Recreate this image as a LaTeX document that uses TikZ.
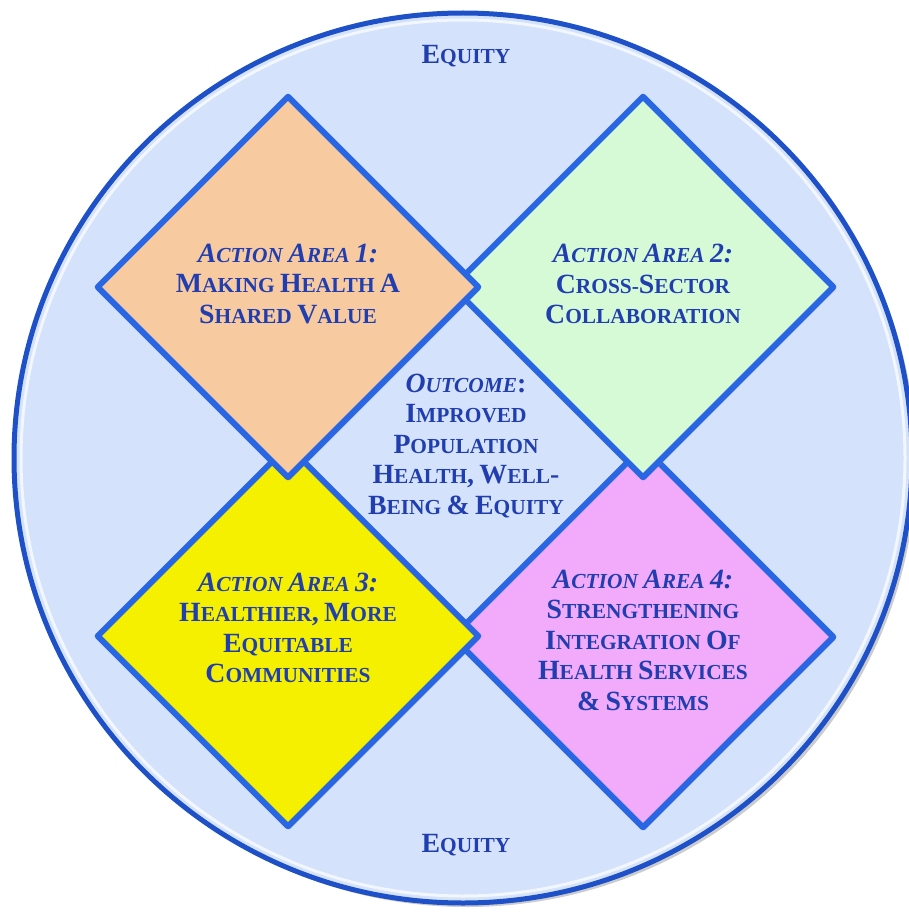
\documentclass[tikz,border=0pt]{standalone}
\usepackage{fontspec}
\setmainfont{Liberation Serif}
\usepackage{tikz}
\usetikzlibrary{shapes.geometric,shadows,positioning}

\definecolor{ringblue}{RGB}{30,80,200}
\definecolor{discfill}{RGB}{213,226,251}
\definecolor{edgeblue}{RGB}{40,102,228}
\definecolor{textblue}{RGB}{32,62,176}
\definecolor{peach}{RGB}{248,202,160}
\definecolor{mint}{RGB}{214,250,214}
\definecolor{lemon}{RGB}{245,240,0}
\definecolor{orchid}{RGB}{242,170,250}

% first letters of the small-caps words
\newcommand{\capl}[1]{{\fontsize{27.8}{30.5}\selectfont #1}}

\begin{document}
\begin{tikzpicture}[x=1pt,y=-1pt,
	area/.style={diamond,draw=edgeblue,line width=6pt,line join=round,
		minimum width=383pt,minimum height=383pt,inner sep=0pt,
		drop shadow={opacity=0.3,shadow xshift=2pt,shadow yshift=-3pt}},
	areatext/.style={text=textblue,align=center,
		font=\fontsize{21.4}{30.5}\selectfont\bfseries}]
\useasboundingbox (0,0) rectangle (908,915);

\fill[discfill,drop shadow={opacity=0.4,shadow xshift=4pt,shadow yshift=-4pt}]
	(463,458) ellipse (449 and 445);
\draw[white,opacity=0.7,line width=3pt] (463,458) ellipse (442 and 438);
\draw[ringblue,line width=5pt] (463,458) ellipse (449 and 445);

\node [area,fill=orchid] (a4) at (643,637){};
\node [area,fill=lemon] (a3) at (288,636){};
\node [area,fill=mint] (a2) at (643,287){};
\node [area,fill=peach] (a1) at (288,287){};

\node [areatext] (t1) at ([yshift=3pt]a1.center){\textit{\capl{A}CTION \capl{A}REA \capl{1:}}\\
	\capl{M}AKING \capl{H}EALTH \capl{A}\\
	\capl{S}HARED \capl{V}ALUE};
\node [areatext] (t2) at ([yshift=3pt]a2.center){\textit{\capl{A}CTION \capl{A}REA \capl{2:}}\\
	\capl{C}ROSS-\capl{S}ECTOR\\
	\capl{C}OLLABORATION};
\node [areatext] (t3) at ([yshift=8pt]a3.center){\textit{\capl{A}CTION \capl{A}REA \capl{3:}}\\
	\capl{H}EALTHIER\capl{,} \capl{M}ORE\\
	\capl{E}QUITABLE\\
	\capl{C}OMMUNITIES};
\node [areatext] (t4) at ([yshift=-3pt]a4.center){\textit{\capl{A}CTION \capl{A}REA \capl{4:}}\\
	\capl{S}TRENGTHENING\\
	\capl{I}NTEGRATION \capl{O}F\\
	\capl{H}EALTH \capl{S}ERVICES\\
	\capl{\&} \capl{S}YSTEMS};

\node [areatext] (outcome) at (466,446){\textit{\capl{O}UTCOME}\capl{:}\\
	\capl{I}MPROVED\\
	\capl{P}OPULATION\\
	\capl{H}EALTH\capl{,} \capl{W}ELL\capl{-}\\
	\capl{B}EING \capl{\&} \capl{E}QUITY};

\node [areatext] (eqtop) at (466,56){\capl{E}QUITY};
\node [areatext] (eqbot) at (466,845){\capl{E}QUITY};
\end{tikzpicture}
\end{document}
